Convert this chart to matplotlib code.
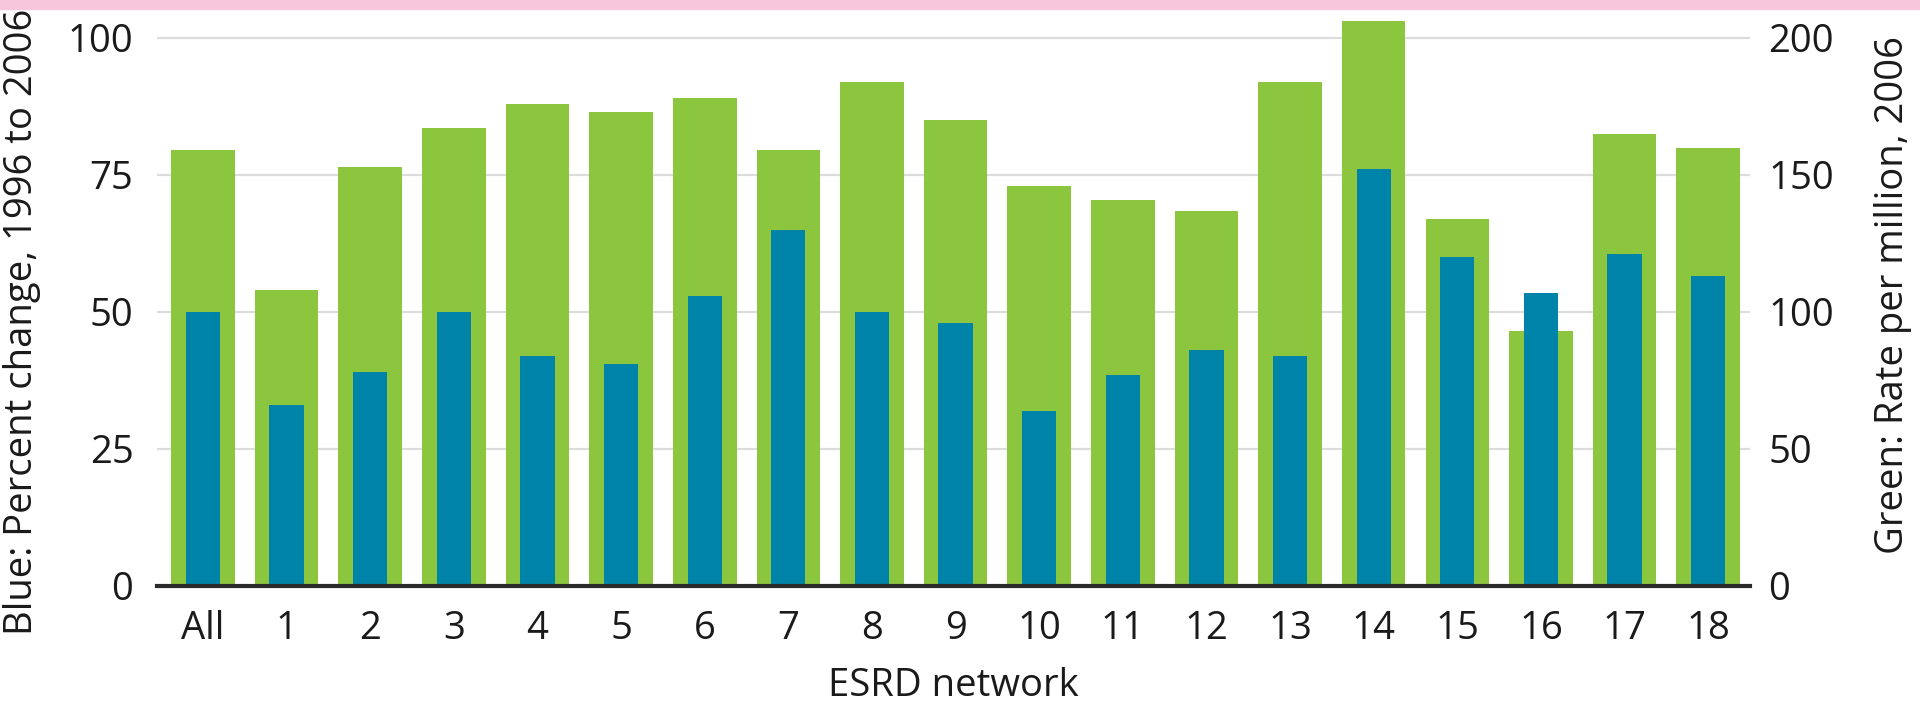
import matplotlib.pyplot as plt
from matplotlib.patches import Rectangle
import numpy as np

plt.rcParams['font.family'] = ['Open Sans', 'DejaVu Sans']

# ESRD networks
networks = ['All', '1', '2', '3', '4', '5', '6', '7', '8', '9', '10',
            '11', '12', '13', '14', '15', '16', '17', '18']
# rate per million, 2006 (right axis)
rate_2006 = [159, 108, 153, 167, 176, 173, 178, 159, 184, 170, 146,
             141, 137, 184, 206, 134, 93, 165, 160]
# percent change 1996 to 2006 (left axis)
pct_change = [50, 33, 39, 50, 42, 40.5, 53, 65, 50, 48, 32,
              38.5, 43, 42, 76, 60, 53.5, 60.5, 56.5]

green = '#8cc63f'
blue = '#0083a8'
txt = '#1a1a1a'
fs = 27.5

fig = plt.figure(figsize=(19.2, 7.07), dpi=100)
ax = fig.add_axes([157 / 1920, 121 / 707, 1593 / 1920, 570 / 707])
ax2 = ax.twinx()

# green bars sit underneath, blue on top
ax.set_zorder(2)
ax.patch.set_visible(False)
ax2.set_zorder(1)

x = np.arange(len(networks))
ax2.bar(x, rate_2006, width=0.76, color=green, zorder=2)
ax.bar(x, pct_change, width=0.41, color=blue, zorder=2)

ax.set_xlim(-0.55, 18.5)
ax.set_ylim(0, 104)
ax2.set_ylim(0, 208)

ax.set_yticks([0, 25, 50, 75, 100])
ax2.set_yticks([0, 50, 100, 150, 200])
ax2.set_axisbelow(True)
ax2.grid(axis='y', color='#dcdcdc', linewidth=1.6)
ax2.get_ygridlines()[0].set_visible(False)

ax.set_xticks(x)
ax.set_xticklabels(networks)

for a in (ax, ax2):
    for s in a.spines.values():
        s.set_visible(False)
    a.tick_params(length=0, labelsize=fs, colors=txt)

ax.spines['bottom'].set_visible(True)
ax.spines['bottom'].set_color('#2b2b2b')
ax.spines['bottom'].set_linewidth(3)
ax.tick_params(axis='x', pad=17)
ax.tick_params(axis='y', pad=17)
ax2.tick_params(axis='y', pad=13)

ax.set_xlabel('ESRD network', fontsize=fs, color=txt, labelpad=14)

fig.text(22 / 1920, 1 - 322 / 707, 'Blue: Percent change, 1996 to 2006',
         rotation=90, ha='center', va='center', fontsize=fs, color=txt)
fig.text(1893 / 1920, 1 - 295 / 707, 'Green: Rate per million, 2006',
         rotation=90, ha='center', va='center', fontsize=fs, color=txt)

# pink strip along the top edge
fig.add_artist(Rectangle((0, 1 - 9 / 707), 1, 9 / 707, transform=fig.transFigure,
                         color='#f7c6da', zorder=10))

fig.savefig('out.png', dpi=100)
